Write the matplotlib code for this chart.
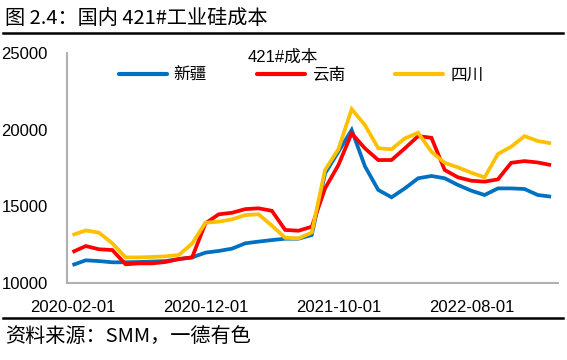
import matplotlib
matplotlib.use("Agg")
import matplotlib.pyplot as plt
from matplotlib.lines import Line2D

plt.rcParams['font.family'] = ['Liberation Sans', 'Noto Sans CJK SC', 'DejaVu Sans']

months = ["2020-02", "2020-03", "2020-04", "2020-05", "2020-06", "2020-07", "2020-08",
          "2020-09", "2020-10", "2020-11", "2020-12", "2021-01", "2021-02", "2021-03",
          "2021-04", "2021-05", "2021-06", "2021-07", "2021-08", "2021-09", "2021-10",
          "2021-11", "2021-12", "2022-01", "2022-02", "2022-03", "2022-04", "2022-05",
          "2022-06", "2022-07", "2022-08", "2022-09", "2022-10", "2022-11", "2022-12",
          "2023-01", "2023-02"]

xinjiang = [11170, 11480, 11430, 11350, 11350, 11370, 11400, 11430, 11560, 11670,
            11980, 12090, 12240, 12590, 12700, 12800, 12890, 12890, 13130, 17150,
            18560, 19980, 17610, 16070, 15590, 16170, 16830, 16980, 16830, 16390,
            16020, 15740, 16170, 16170, 16130, 15740, 15630]
yunnan = [12020, 12410, 12200, 12150, 11220, 11280, 11280, 11370, 11560, 11670,
          13890, 14480, 14580, 14820, 14870, 14710, 13460, 13410, 13670, 16170,
          17690, 19760, 18780, 18020, 18020, 18780, 19580, 19470, 17370, 16890,
          16670, 16610, 16760, 17840, 17950, 17860, 17690]
sichuan = [13130, 13430, 13280, 12590, 11670, 11670, 11700, 11740, 11830, 12570,
           13930, 14000, 14150, 14430, 14480, 13740, 12950, 12910, 13290, 17370,
           18720, 21340, 20300, 18790, 18720, 19430, 19800, 18560, 17840, 17540,
           17190, 16890, 18410, 18890, 19580, 19260, 19110]

series_names = ["新疆", "云南", "四川"]
colors = ["#0070C0", "#FF0000", "#FFC000"]
xtick_labels = ["2020-02-01", "2020-12-01", "2021-10-01", "2022-08-01"]
xtick_pos = [months.index(l[:7]) for l in xtick_labels]
yticks = [10000, 15000, 20000, 25000]

fig = plt.figure(figsize=(5.67, 3.6), dpi=100)
ax = fig.add_axes([67/567, 1-283/360, (558-67)/567, (283-53)/360])

x = list(range(len(months)))
handles = []
for data, c, name in zip([xinjiang, yunnan, sichuan], colors, series_names):
    ax.plot(x, data, color=c, lw=2.7, solid_joinstyle='miter', solid_capstyle='butt')
    handles.append(Line2D([], [], color=c, lw=3, solid_capstyle='round'))

ax.set_xlim(-0.41, len(months) - 1 + 0.52)
ax.set_ylim(10000, 25000)
ax.set_yticks(yticks)
ax.set_yticklabels([str(v) for v in yticks])
ax.set_xticks(xtick_pos)
ax.set_xticklabels(xtick_labels)
ax.tick_params(axis='both', length=0, labelsize=12, colors='black')
ax.tick_params(axis='y', pad=14)
ax.tick_params(axis='x', pad=12)
for s in ['top', 'right']:
    ax.spines[s].set_visible(False)
for s in ['left', 'bottom']:
    ax.spines[s].set_color('#B0B0B0')
    ax.spines[s].set_linewidth(1.5)

leg = fig.legend(handles, series_names, ncol=3, frameon=False,
                 loc='center', bbox_to_anchor=(301/567, 1-75/360),
                 prop={'family': ['Noto Sans CJK SC'], 'size': 12},
                 handlelength=2.9, handletextpad=0.4, columnspacing=3.0,
                 borderpad=0, borderaxespad=0)
fig.text(283/567, 1-57/360, "421#成本", ha='center', va='center', fontsize=12)

fig.text(5/567, 1-18/360, "图 2.4：国内 421#工业硅成本", ha='left', va='center',
         fontsize=14.5, family=['Noto Sans CJK SC'])
fig.add_artist(Line2D([3/567, 563/567], [1-32.5/360, 1-32.5/360], color='black', lw=1.8))
fig.add_artist(Line2D([3/567, 563/567], [1-318/360, 1-318/360], color='black', lw=1.8))
fig.text(5/567, 1-337/360, "资料来源：SMM，一德有色", ha='left', va='center',
         fontsize=14.5, family=['Noto Sans CJK SC'])

fig.savefig("out.png", dpi=100)
